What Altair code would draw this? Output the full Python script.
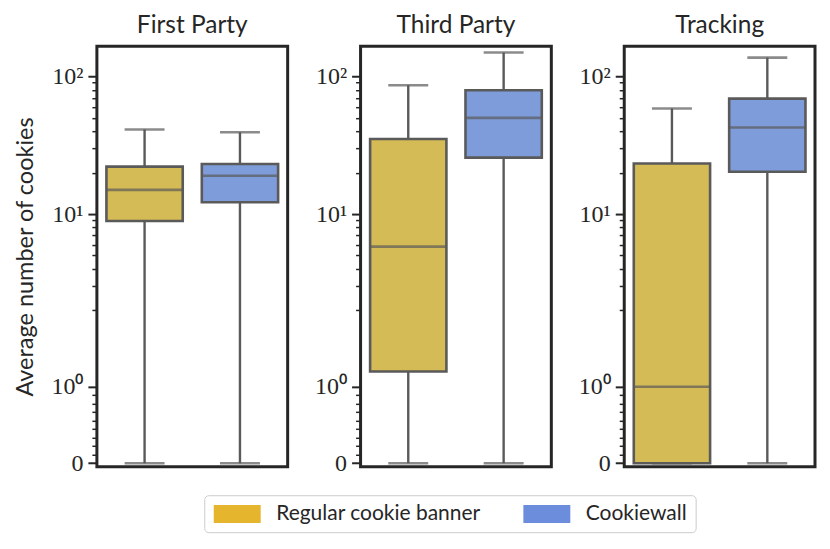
import math
import altair as alt
import pandas as pd

# ---- data ----
panels = ["First Party", "Third Party", "Tracking"]
groups = ["Regular cookie banner", "Cookiewall"]

mins = [0, 0, 0, 0, 0, 0]
q1s = [8.9, 12.2, 1.2, 25.7, 0.0, 20.3]
medians = [15.0, 19.0, 5.8, 50.0, 1.0, 42.6]
q3s = [22.1, 23.1, 35.1, 79.4, 23.3, 69.0]
maxs = [41.2, 39.3, 86.3, 149.0, 58.5, 137.0]

major_ticks = [0, 1, 10, 100]
major_labels = ["0", "10⁰", "10¹", "10²"]
minor_ticks = [k / 9 for k in range(1, 9)] + list(range(2, 10)) + list(range(20, 100, 10))

box_colors = ["#D5BB55", "#7F9CDA"]
legend_colors = ["#E5B52E", "#6C8CDC"]
GRAY = "#5A5A5A"
DARK = "#262626"
SANS = "Lato"
SERIF = "Liberation Serif"

panel_col = [p for p in panels for _ in groups]
group_col = groups * len(panels)
df = pd.DataFrame({"panel": panel_col, "group": group_col, "vmin": mins,
                   "q1": q1s, "med": medians, "q3": q3s, "vmax": maxs})

# symlog transform (linthresh = 2, linscale = 1)
LIN = 2.0
ADJ = 1.0 / (1.0 - 1.0 / 10.0)


def symlog(v):
    return v * ADJ if v <= LIN else LIN * (ADJ + math.log10(v / LIN))


def expr(field):
    return (f"datum.{field} <= {LIN} ? datum.{field} * {ADJ} : "
            f"{LIN} * ({ADJ} + log(datum.{field} / {LIN}) / LN10)")


major_pos = [symlog(v) for v in major_ticks]
minor_pos = [symlog(v) for v in minor_ticks]
tick_values = sorted(major_pos + minor_pos)

is_major = " || ".join(f"abs(datum.value - {p}) < 1e-6" for p in major_pos)
label_expr = ""
for p, lab in zip(major_pos, major_labels):
    label_expr += f"abs(datum.value - {p}) < 1e-6 ? '{lab}' : "
label_expr += "''"

y_scale = alt.Scale(domain=[-0.051, 6.058], nice=False, zero=False)
x_enc = alt.X("group:N", sort=groups,
              scale=alt.Scale(domain=groups, paddingInner=0, paddingOuter=0),
              axis=None)


def y_axis(title):
    return alt.Axis(values=tick_values, labelExpr=label_expr, grid=False, domain=False,
                    labelOverlap=False, labelFlush=False,
                    tickColor=DARK,
                    tickSize={"condition": {"test": is_major, "value": 9}, "value": 5},
                    tickWidth={"condition": {"test": is_major, "value": 2}, "value": 1.5},
                    labelFont=SERIF, labelFontSize=24, labelColor=DARK, labelPadding=5,
                    title=title,
                    titleFont=SANS, titleFontSize=23.5, titleFontWeight="normal",
                    titleColor=DARK, titlePadding=13)


def panel(p, first):
    ax = y_axis("Average number of cookies" if first else "")
    base = alt.Chart(df).transform_filter(alt.datum.panel == p)
    for f in ["vmin", "q1", "med", "q3", "vmax"]:
        base = base.transform_calculate(**{"t_" + f: expr(f)})

    def Y(field):
        return alt.Y(field + ":Q", scale=y_scale, axis=ax)

    lo = base.mark_rule(color=GRAY, strokeWidth=2.4).encode(x=x_enc, y=Y("t_vmin"), y2="t_q1:Q")
    hi = base.mark_rule(color=GRAY, strokeWidth=2.4).encode(x=x_enc, y=Y("t_q3"), y2="t_vmax:Q")
    cap_lo = base.mark_tick(color=GRAY, size=40, thickness=2.6).encode(x=x_enc, y=Y("t_vmin"))
    cap_hi = base.mark_tick(color=GRAY, size=40, thickness=2.6).encode(x=x_enc, y=Y("t_vmax"))
    # fill scale listed in reverse order so that its legend is not merged with the colour legend
    box = base.mark_bar(stroke=GRAY, strokeWidth=2.6, width={"band": 0.8}).encode(
        x=x_enc, y=Y("t_q1"), y2="t_q3:Q",
        fill=alt.Fill("group:N",
                      scale=alt.Scale(domain=groups[::-1], range=box_colors[::-1]),
                      legend=None))
    med = base.mark_tick(color=GRAY, size=77, thickness=2.6).encode(x=x_enc, y=Y("t_med"))
    layers = [lo, hi, cap_lo, cap_hi, box, med]
    if first:
        leg = base.mark_point(shape="square", filled=True, size=0).encode(
            x=x_enc, y=Y("t_med"),
            color=alt.Color("group:N", scale=alt.Scale(domain=groups, range=legend_colors),
                            legend=alt.Legend(orient="none", legendX=107.5, legendY=449.5,
                                              direction="horizontal", title=None,
                                              symbolType="M-1,-1H4.222V1H-1Z",
                                              symbolSize=324, symbolOpacity=1,
                                              symbolStrokeWidth=0,
                                              labelFont=SANS, labelFontSize=21,
                                              labelColor=DARK, labelOffset=43,
                                              columnPadding=41, padding=8,
                                              strokeColor="#CCCCCC", cornerRadius=4,
                                              fillColor="white", labelLimit=400)))
        layers.append(leg)
    return alt.layer(*layers).properties(
        width=191, height=421,
        title=alt.TitleParams(p, font=SANS, fontSize=24.5, fontWeight="normal",
                              color=DARK, anchor="middle", offset=8))


chart = alt.hconcat(*[panel(p, i == 0) for i, p in enumerate(panels)],
                    spacing=73, bounds="flush").properties(
    padding={"left": 4, "top": 3, "right": 5, "bottom": 5},
    background="white",
).configure_view(stroke=DARK, strokeWidth=3)

chart.save("out.html", embed_options={"renderer": "svg", "actions": False})
